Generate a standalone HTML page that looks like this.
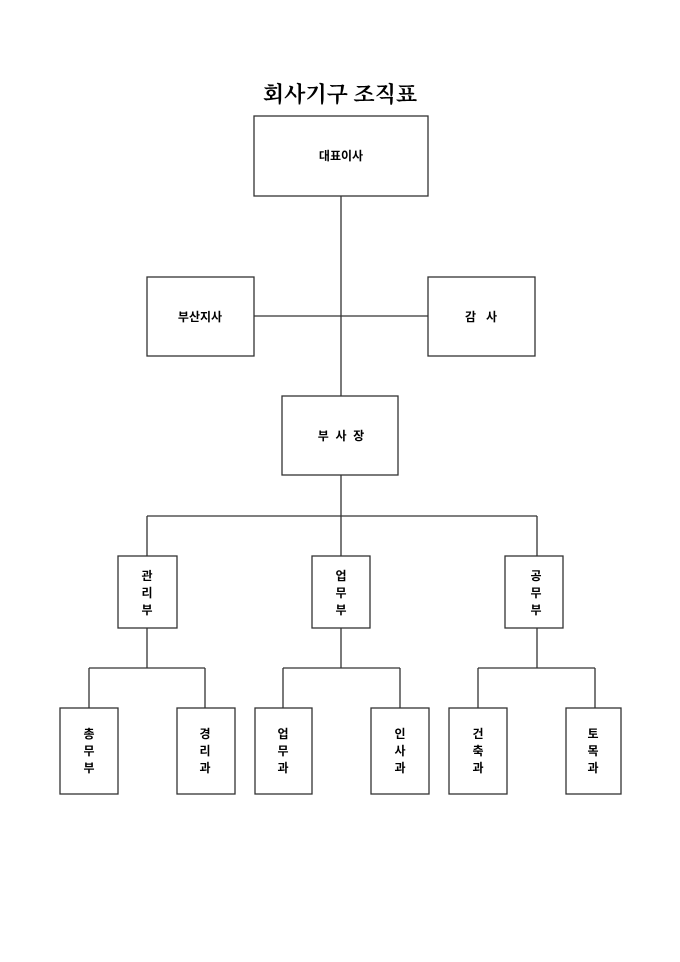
<!DOCTYPE html>
<html><head><meta charset="utf-8"><style>body{margin:0;background:#fff}</style></head>
<body>
<svg width="680" height="962" xmlns="http://www.w3.org/2000/svg" style="display:block">
<g fill="none" stroke="#333" stroke-width="1.3">
<rect x="254" y="116" width="174" height="80"/>
<rect x="147" y="277" width="107" height="79"/>
<rect x="428" y="277" width="107" height="79"/>
<rect x="282" y="396" width="116" height="79"/>
<rect x="118" y="556" width="59" height="72"/>
<rect x="312" y="556" width="58" height="72"/>
<rect x="505" y="556" width="58" height="72"/>
<rect x="60" y="708" width="58" height="86"/>
<rect x="177" y="708" width="58" height="86"/>
<rect x="255" y="708" width="57" height="86"/>
<rect x="371" y="708" width="58" height="86"/>
<rect x="449" y="708" width="58" height="86"/>
<rect x="566" y="708" width="55" height="86"/>
<path d="M341 196V396M254 316H428M341 475V556M147 516H537M147 516V556M537 516V556"/>
<path d="M147 628V668M89 668H205M89 668V708M205 668V708"/>
<path d="M341 628V668M283 668H400M283 668V708M400 668V708"/>
<path d="M537 628V668M478 668H595M478 668V708M595 668V708"/>
</g>
<g font-family="'Liberation Sans','Noto Sans CJK KR',sans-serif" font-size="12" font-weight="bold" text-anchor="middle" fill="#000">
<text x="341" y="160">대표이사</text>
<text x="200" y="321">부산지사</text>
<text x="481" y="321" xml:space="preserve">감   사</text>
<text x="341" y="440" xml:space="preserve">부  사  장</text>
<g>
<text x="147" y="580">관</text><text x="147" y="597">리</text><text x="147" y="614">부</text>
<text x="341" y="580">업</text><text x="341" y="597">무</text><text x="341" y="614">부</text>
<text x="536" y="580">공</text><text x="536" y="597">무</text><text x="536" y="614">부</text>
<text x="89" y="738">총</text><text x="89" y="755">무</text><text x="89" y="772">부</text>
<text x="205" y="738">경</text><text x="205" y="755">리</text><text x="205" y="772">과</text>
<text x="283" y="738">업</text><text x="283" y="755">무</text><text x="283" y="772">과</text>
<text x="400" y="738">인</text><text x="400" y="755">사</text><text x="400" y="772">과</text>
<text x="478" y="738">건</text><text x="478" y="755">축</text><text x="478" y="772">과</text>
<text x="593" y="738">토</text><text x="593" y="755">목</text><text x="593" y="772">과</text>
</g>
</g>
<text x="340" y="102" font-family="'Liberation Serif','Noto Serif CJK KR',serif" font-size="22" font-weight="bold" text-anchor="middle" xml:space="preserve">회사기구 조직표</text>
</svg>
</body></html>
